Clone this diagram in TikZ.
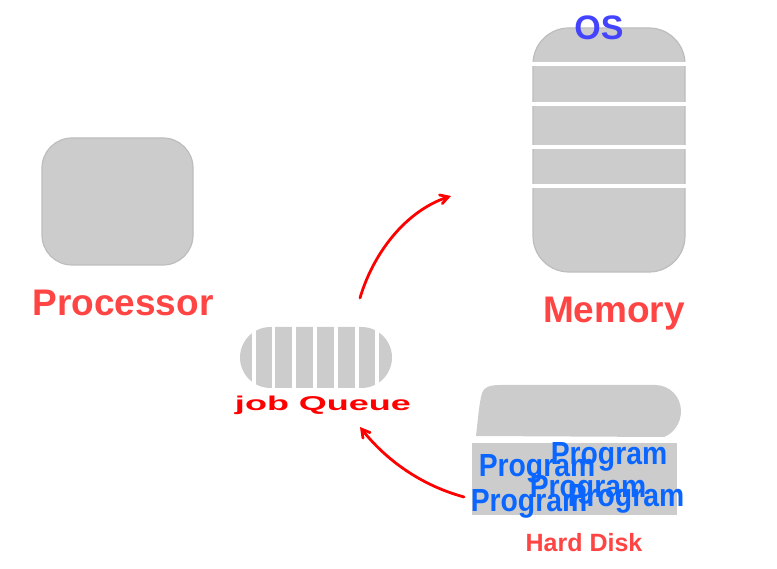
\documentclass[tikz,border=0pt]{standalone}
\usepackage{fontspec}
\setmainfont{Liberation Sans}
\usepackage{tikz}
\usetikzlibrary{arrows,shapes}

\definecolor{BoxGray}{HTML}{CCCCCC}
\definecolor{EdgeGray}{HTML}{BDBDBD}
\definecolor{LabelRed}{HTML}{FF4444}
\definecolor{ProgBlue}{HTML}{0A66FF}
\definecolor{OsBlue}{HTML}{4444FF}

\tikzset{
  box/.style={draw=EdgeGray,fill=BoxGray,rectangle,line width=1.2bp,inner sep=0pt},
  bigred/.style={text=LabelRed,font=\fontsize{37bp}{37bp}\selectfont\bfseries,inner sep=0pt},
  prog/.style={text=ProgBlue,font=\fontsize{32bp}{32bp}\selectfont\bfseries,inner sep=0pt,
    xscale=0.885,transform shape,anchor=base},
  gap/.style={draw=white,line width=3.4bp},
  flow/.style={-angle 60,draw=red,line width=2.8bp,line cap=round},
}

\begin{document}
\begin{tikzpicture}[>=latex',line join=bevel,]
\useasboundingbox (0bp,0bp) rectangle (777bp,569bp);
%%
\node (proc_box) at (117.5bp,367.5bp)
  [box,rounded corners=30bp,minimum width=151bp,minimum height=127bp] {};
\node (proc_label) at (123bp,266bp) [bigred] {Processor};

\node (mem_box) at (609bp,419bp)
  [box,rounded corners=36bp,minimum width=152bp,minimum height=244bp] {};
\node (mem_label) at (614bp,255bp) [bigred] {Memory};
\node (os_label) at (599bp,541bp)
  [text=OsBlue,font=\fontsize{34bp}{34bp}\selectfont\bfseries,inner sep=0pt] {OS};
\draw [gap] (532bp,505bp) -- (686bp,505bp);
\draw [gap] (532bp,465bp) -- (686bp,465bp);
\draw [gap] (532bp,422bp) -- (686bp,422bp);
\draw [gap] (532bp,383bp) -- (686bp,383bp);

%% queue
\node (queue_box) at (316bp,211.5bp)
  [draw=none,fill=BoxGray,rectangle,rounded corners=30.5bp,inner sep=0pt,
   minimum width=152bp,minimum height=61bp] {};
\draw [gap] (254bp,175bp) -- (254bp,248bp);
\draw [gap] (273.5bp,175bp) -- (273.5bp,248bp);
\draw [gap] (294bp,175bp) -- (294bp,248bp);
\draw [gap] (315bp,175bp) -- (315bp,248bp);
\draw [gap] (336bp,175bp) -- (336bp,248bp);
\draw [gap] (357bp,175bp) -- (357bp,248bp);
\draw [gap] (377bp,175bp) -- (377bp,248bp);
\node (queue_label) at (323bp,164bp)
  [text=red,font=\fontsize{20bp}{20bp}\selectfont\bfseries,inner sep=0pt,
   xscale=1.8,transform shape] {job Queue};

%% disk
\fill [BoxGray] (476bp,133bp) .. controls (478bp,150bp) and (479bp,165bp)
  .. (482bp,176bp) .. controls (484bp,182bp) and (490bp,184bp)
  .. (500bp,184bp) -- (655bp,184bp)
  .. controls (670bp,184bp) and (681bp,172bp) .. (681bp,158bp)
  .. controls (681bp,146bp) and (674bp,136bp) .. (664bp,132bp) -- cycle;
\node (disk_box) at (574.5bp,90bp)
  [fill=BoxGray,rectangle,inner sep=0pt,minimum width=205bp,minimum height=72bp] {};
\node (prog_a) at (609bp,104bp) [prog] {Program};
\node (prog_b) at (537bp,92bp) [prog] {Program};
\node (prog_c) at (588bp,71bp) [prog] {Program};
\node (prog_d) at (626bp,62bp) [prog] {Program};
\node (prog_e) at (529bp,57bp) [prog] {Program};
\node (disk_label) at (584bp,26bp)
  [text=LabelRed,font=\fontsize{25bp}{25bp}\selectfont\bfseries,inner sep=0pt] {Hard Disk};

\coordinate (from_disk) at (464bp,72bp);
\coordinate (to_queue) at (360bp,142bp);
\coordinate (from_queue) at (360bp,271bp);
\coordinate (to_mem) at (451bp,373bp);

\draw [flow]
  (from_disk) .. controls (420bp,84bp) and (385bp,110bp)
  .. (to_queue);

\draw [flow]
  (from_queue) .. controls (373bp,315bp) and (405bp,358bp)
  .. (to_mem);
\end{tikzpicture}
\end{document}
